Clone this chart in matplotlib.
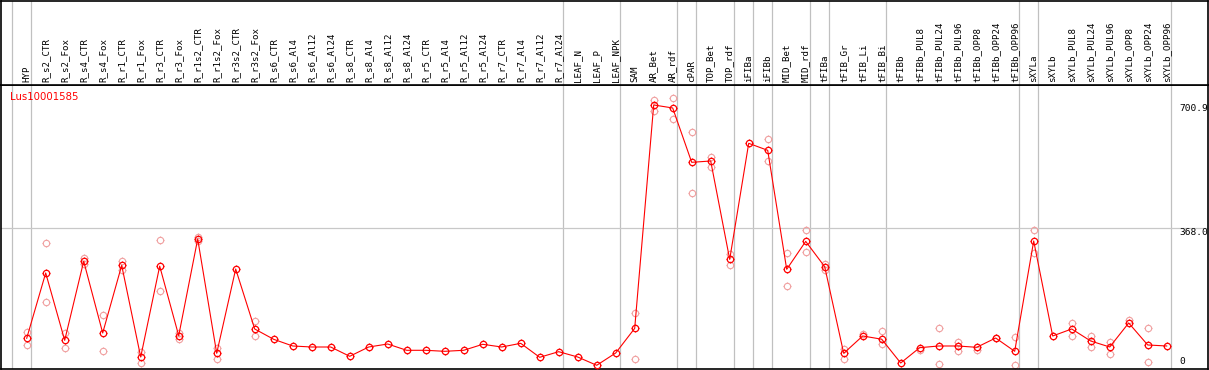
import numpy as np
import matplotlib
matplotlib.use("Agg")
import matplotlib.pyplot as plt
from matplotlib.path import Path

nan = np.nan

samples = ["HYP", "R_s2_CTR", "R_s2_Fox", "R_s4_CTR", "R_s4_Fox", "R_r1_CTR", "R_r1_Fox",
           "R_r3_CTR", "R_r3_Fox", "R_r1s2_CTR", "R_r1s2_Fox", "R_r3s2_CTR", "R_r3s2_Fox",
           "R_s6_CTR", "R_s6_Al4", "R_s6_Al12", "R_s6_Al24", "R_s8_CTR", "R_s8_Al4", "R_s8_Al12",
           "R_s8_Al24", "R_r5_CTR", "R_r5_Al4", "R_r5_Al12", "R_r5_Al24", "R_r7_CTR", "R_r7_Al4",
           "R_r7_Al12", "R_r7_Al24", "LEAF_N", "LEAF_P", "LEAF_NPK", "SAM", "AR_Bet", "AR_rdf",
           "cPAR", "TOP_Bet", "TOP_rdf", "iFIBa", "iFIBb", "MID_Bet", "MID_rdf", "tFIBa",
           "tFIB_Gr", "tFIB_Li", "tFIB_Bi", "tFIBb", "tFIBb_PUL8", "tFIBb_PUL24", "tFIBb_PUL96",
           "tFIBb_OPP8", "tFIBb_OPP24", "tFIBb_OPP96", "sXYLa", "sXYLb", "sXYLb_PUL8",
           "sXYLb_PUL24", "sXYLb_PUL96", "sXYLb_OPP8", "sXYLb_OPP24", "sXYLb_OPP96"]

mean_expr = [74.4, 248.7, 69, 280, 88.6, 269, 24.5, 267, 81.4, 339.4, 34.4, 259.3, 99.3,
             71.7, 53.9, 51.2, 51.2, 26.4, 51.2, 59.2, 42.4, 42.4, 39.7, 42.4, 58.4, 51.2,
             61, 23.7, 38.7, 24.5, 2.4, 35.2, 101, 697, 689, 544, 547.5, 285, 594.7, 576,
             258.5, 333, 265.5, 34.4, 80.6, 72, 8.5, 49.4, 53.9, 53.9, 50.4, 75.2, 39.7,
             334, 80.6, 99.3, 67.2, 51.2, 115.3, 56.6, 53.9]

rep_hi = [91, 328, 89, 290, 136, 282, 38, 336, 89, 345, 49, nan, 120,
          nan, nan, nan, nan, nan, nan, nan, nan, nan, nan, nan, nan, nan,
          nan, nan, nan, nan, nan, nan, 143, 711, 716, 624, 559, 299, nan, 605,
          301, 363, 272, 45, 86, 94, nan, 42, 101, 64, 42, 76, 78,
          363, nan, 114, 81, 65, 123, 101, nan]

rep_lo = [56, 170, 49, 274, 40, 257, 9, 201, 72, 335, 18, nan, 80,
          nan, nan, nan, nan, nan, nan, nan, nan, nan, nan, nan, nan, nan,
          nan, nan, nan, nan, nan, nan, 20, 680, 660, 461, 531, 270, nan, 548,
          213, 304, 257, 20, nan, 58, nan, nan, 6, 41, nan, nan, 2,
          301, nan, 81, 52, 33, nan, 10, nan]

# group separators (after these sample indexes)
group_ends = [-1, 0, 28, 31, 34, 35, 37, 38, 39, 41, 42, 45, 52, 53, 60]

W, H = 1209, 370
fig = plt.figure(figsize=(W / 100, H / 100), dpi=100)

# four small ticks around each circle
ticks = Path([[0, 1], [0, 1.45], [0, -1], [0, -1.45], [1, 0], [1.45, 0], [-1, 0], [-1.45, 0]],
             [Path.MOVETO, Path.LINETO] * 4)

x = np.arange(len(samples))
xlim = (-25.7 / 19, (1207 - 25.7) / 19)

ax = fig.add_axes([1 / W, 1 / H, 1207 / W, 284 / H])
hd = fig.add_axes([1 / W, 285 / H, 1207 / W, 84 / H], sharex=ax)
ax.set_xlim(*xlim)
ax.set_ylim(-7.5, 750.3)

for a in (ax, hd):
    for s in a.spines.values():
        s.set_color("black")
        s.set_linewidth(1.2)
    a.tick_params(left=False, bottom=False, labelleft=False, labelbottom=False)
    for g in group_ends:
        a.axvline(g + 0.21, color="#c0c0c0", lw=0.9, zorder=0)
hd.set_ylim(0, 1)

ax.axhline(368.0, color="#c8c8c8", lw=0.9, zorder=0)

light = "#f0a0a0"
for reps in (rep_hi, rep_lo):
    ax.plot(x, reps, ls="none", marker="o", ms=4.6, mew=0.8, mfc="none", mec=light, zorder=2)
    ax.plot(x, reps, ls="none", marker=ticks, ms=6.4, mew=0.8, mec=light, zorder=2)
ax.plot(x, mean_expr, color="red", lw=0.8, marker="o", ms=4.6, mew=0.9, mfc="none", mec="red", zorder=3)
ax.plot(x, mean_expr, ls="none", marker=ticks, ms=6.4, mew=0.9, mec="red", zorder=3)

for i, name in enumerate(samples):
    hd.text(i, 0.03, name, rotation=90, ha="center", va="bottom",
            fontsize=6.6, family="DejaVu Sans Mono")

ax.text(0.0075, 0.975, "Lus10001585", transform=ax.transAxes, color="red",
        fontsize=7.3, ha="left", va="top")

tr = ax.get_yaxis_transform()
ax.text(0.976, 700.9, "700.9", transform=tr, fontsize=6.8, family="DejaVu Sans Mono", va="top", ha="left")
ax.text(0.976, 368.0, "368.0", transform=tr, fontsize=6.8, family="DejaVu Sans Mono", va="top", ha="left")
ax.text(0.976, 1.0, "0", transform=tr, fontsize=6.8, family="DejaVu Sans Mono", va="bottom", ha="left")

fig.savefig("out.png", dpi=100)
